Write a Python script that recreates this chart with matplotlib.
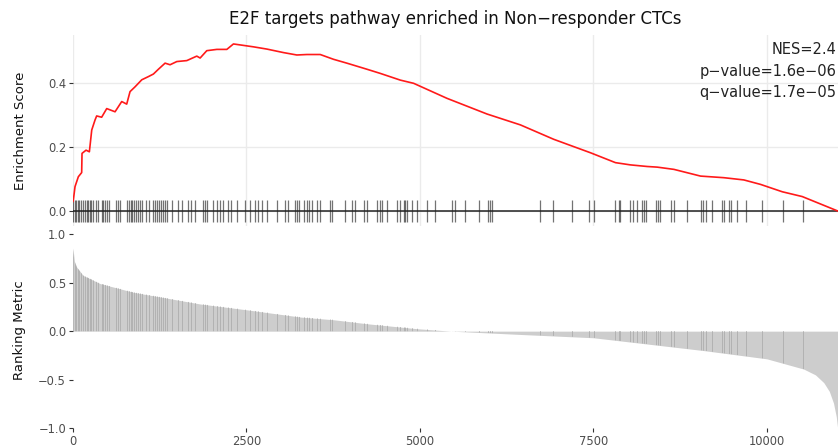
import matplotlib
matplotlib.use("Agg")
import matplotlib.pyplot as plt
from matplotlib.ticker import FuncFormatter

# running enrichment score (gene rank, ES)
es_rank = [0, 5, 29, 77, 125, 130, 188, 236, 270, 317, 341, 413, 486, 606, 702, 774,
           822, 894, 991, 1087, 1159, 1231, 1327, 1399, 1496, 1640, 1784, 1832, 1928,
           2073, 2217, 2312, 2409, 2601, 2794, 3034, 3226, 3370, 3563, 3755, 3947,
           4236, 4428, 4717, 4909, 5390, 5967, 6448, 6928, 7217, 7457, 7818, 8034,
           8275, 8420, 8660, 9044, 9380, 9668, 9909, 10222, 10510, 11020]
es_value = [0.03, 0.034, 0.076, 0.107, 0.12, 0.18, 0.19, 0.185, 0.253, 0.284, 0.297,
            0.293, 0.32, 0.31, 0.342, 0.334, 0.373, 0.388, 0.41, 0.42, 0.428, 0.443,
            0.462, 0.457, 0.467, 0.47, 0.484, 0.478, 0.501, 0.505, 0.505, 0.522, 0.519,
            0.513, 0.506, 0.495, 0.4875, 0.489, 0.489, 0.474, 0.462, 0.443, 0.43,
            0.409, 0.399, 0.352, 0.303, 0.269, 0.224, 0.201, 0.182, 0.151, 0.144,
            0.139, 0.137, 0.13, 0.109, 0.104, 0.097, 0.083, 0.06, 0.045, 0.0]

# positions of the gene set members in the ranked list
hits = [0, 22, 43, 65, 87, 115, 144, 166, 195, 216, 238, 260, 288, 332, 361, 411, 433,
        462, 490, 519, 620, 649, 678, 779, 808, 829, 851, 880, 909, 938, 966, 995,
        1053, 1096, 1154, 1183, 1212, 1240, 1269, 1298, 1327, 1356, 1424, 1519, 1568,
        1663, 1698, 1760, 1879, 1904, 1933, 2024, 2073, 2120, 2168, 2240, 2279, 2361,
        2481, 2553, 2625, 2673, 2722, 2794, 2938, 3058, 3105, 3202, 3227, 3250, 3322,
        3371, 3394, 3443, 3515, 3563, 3707, 3731, 3923, 4020, 4067, 4187, 4236, 4381,
        4428, 4453, 4525, 4669, 4717, 4764, 4789, 4813, 4885, 4957, 5102, 5221, 5462,
        5510, 5654, 5856, 5976, 6005, 6039, 6736, 6919, 7193, 7433, 7505, 7818, 7865,
        7890, 8034, 8073, 8131, 8203, 8226, 8265, 8395, 8428, 8457, 8621, 8659, 8852,
        9044, 9083, 9116, 9213, 9357, 9380, 9452, 9477, 9573, 9693, 9934, 10237, 10525]

# ranking metric outline (gene rank, metric)
rm_rank = [0, 20, 53, 145, 390, 870, 1350, 1830, 2500, 3280, 3760, 4240, 4960, 5450,
           6450, 7500, 9090, 10000, 10530, 10700, 10820, 10900, 10960, 11000, 11020]
rm_value = [0.85, 0.72, 0.66, 0.574, 0.49, 0.40, 0.34, 0.28, 0.22, 0.145, 0.117, 0.076,
            0.025, 0.0, -0.034, -0.068, -0.2, -0.285, -0.39, -0.45, -0.53, -0.62,
            -0.74, -0.88, -1.0]

title = "E2F targets pathway enriched in Non\u2212responder CTCs"
stats = ["NES=2.4", "p\u2212value=1.6e\u221206", "q\u2212value=1.7e\u221205"]
n_genes = 11025

W, H = 838, 447
fig = plt.figure(figsize=(W / 100, H / 100), dpi=100)


def box(l, t, r, b):
    return [l / W, 1 - b / H, (r - l) / W, (b - t) / H]


fmt = FuncFormatter(lambda v, p: f"{v:.1f}".replace("-", "\u2212"))
tick_grey = "#4d4d4d"

# enrichment score panel
ax1 = fig.add_axes(box(73, 35, 838, 226))
ax1.set_xlim(0, n_genes)
ax1.set_ylim(-0.047, 0.55)
ax1.grid(True, color="#ebebeb", lw=1)
ax1.set_axisbelow(True)
ax1.set_xticks([0, 2500, 5000, 7500, 10000])
ax1.set_yticks([0.0, 0.2, 0.4])
ax1.yaxis.set_major_formatter(fmt)
ax1.tick_params(axis="x", length=0, labelbottom=False)
ax1.tick_params(axis="y", length=3, width=0.8, color="#333333", labelcolor=tick_grey,
                labelsize=8.3, pad=2)
for s in ax1.spines.values():
    s.set_visible(False)
ax1.vlines(hits, -0.033, 0.033, color="black", lw=0.9, alpha=0.55)
ax1.axhline(0, color="#222222", lw=1.1)
ax1.plot(es_rank, es_value, color="#ff1a1a", lw=1.2)
for i, s in enumerate(stats):
    fig.text(836 / W, 1 - (50 + 21.5 * i) / H, s, ha="right", va="center",
             fontsize=10.5, color="#222222")

# ranking metric panel
ax2 = fig.add_axes(box(73, 228, 838, 428.3))
ax2.set_xlim(0, n_genes)
ax2.set_ylim(-1.0, 1.062)
poly = ax2.fill_between(rm_rank, rm_value, 0, color="#cdcdcd", lw=0)
hl = ax2.vlines(hits, -1, 1, color="#ababab", lw=0.55)
hl.set_clip_path(poly.get_paths()[0], ax2.transData)
ax2.set_xticks([0, 2500, 5000, 7500, 10000])
ax2.set_yticks([-1.0, -0.5, 0.0, 0.5, 1.0])
ax2.yaxis.set_major_formatter(fmt)
ax2.tick_params(length=3, width=0.8, color="#333333", labelcolor=tick_grey,
                labelsize=8.3, pad=2)
for s in ax2.spines.values():
    s.set_visible(False)

fig.text(455 / W, 1 - 19 / H, title, ha="center", va="center", fontsize=12,
         color="#111111")
fig.text(20 / W, 1 - 131 / H, "Enrichment Score", rotation=90, ha="center",
         va="center", fontsize=9.5, color="#111111")
fig.text(20 / W, 1 - 330 / H, "Ranking Metric", rotation=90, ha="center",
         va="center", fontsize=9.5, color="#111111")

fig.savefig("out.png", dpi=100)
